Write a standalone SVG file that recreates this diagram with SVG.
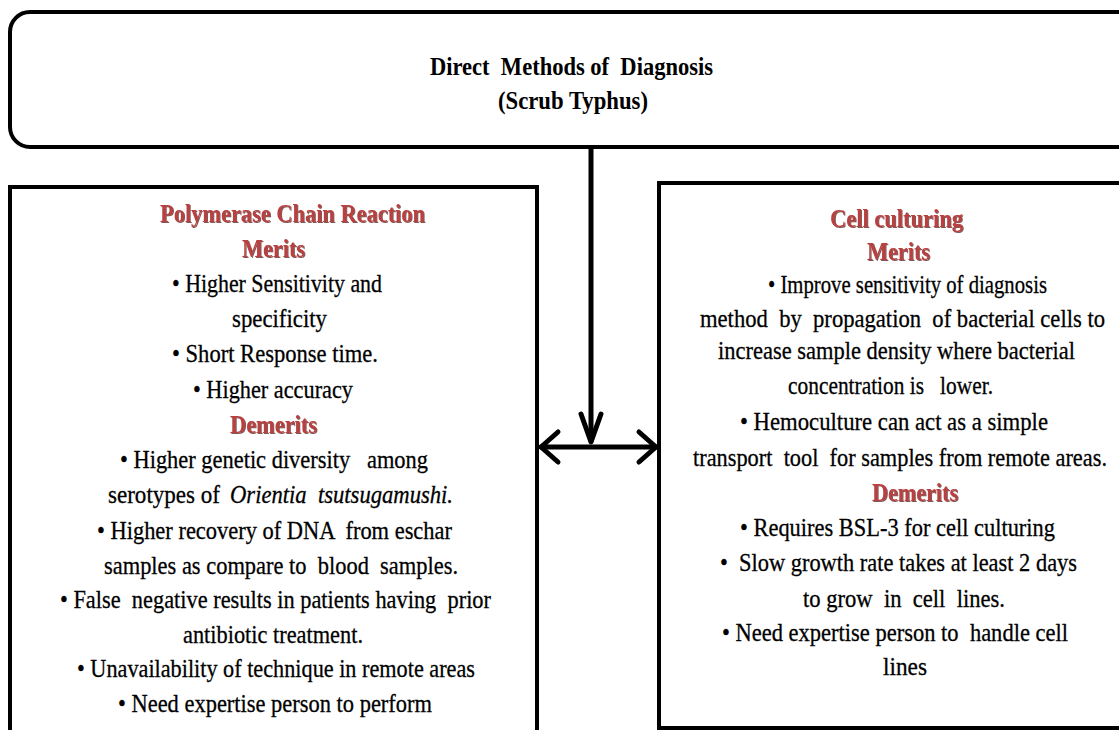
<svg xmlns="http://www.w3.org/2000/svg" width="1119" height="730" viewBox="0 0 1119 730">
<style>
.box{fill:#fff;stroke:#000;stroke-width:4}
.t{font-family:"Liberation Serif","Times New Roman",serif;font-size:26px;fill:#000;stroke:#000;stroke-width:0.3;white-space:pre}
.i{font-style:italic}
.ttl{font-family:"Liberation Serif","Times New Roman",serif;font-size:26px;font-weight:bold;fill:#000;white-space:pre}
.h{font-family:"Liberation Serif","Times New Roman",serif;font-size:26px;font-weight:bold;fill:#b8403f;filter:url(#sh);white-space:pre}
.c{fill:none;stroke:#000;stroke-width:5;stroke-linecap:round;stroke-linejoin:round}
</style>
<defs>
<filter id="sh" x="-5%" y="-20%" width="110%" height="140%">
<feDropShadow dx="1" dy="1" stdDeviation="0.6" flood-color="#4a1010" flood-opacity="0.7"/>
</filter>
</defs>
<rect width="1119" height="730" fill="#fff"/>
<g id="connectors">
<line class="c" x1="591" y1="148" x2="591" y2="441"/>
<polyline class="c" points="581,414 591,442 601,414"/>
<line class="c" x1="541" y1="447" x2="656" y2="447"/>
<polyline class="c" points="558,432 541,447 558,462"/>
<polyline class="c" points="639,432 656,447 639,462"/>
</g>
<g id="top">
<rect class="box" x="10" y="12" width="1130" height="135" rx="20"/>
<text class="ttl" x="430" y="75" textLength="283" lengthAdjust="spacingAndGlyphs">Direct  Methods of  Diagnosis</text>
<text class="ttl" x="498" y="109" textLength="150" lengthAdjust="spacingAndGlyphs">(Scrub Typhus)</text>
</g>
<g id="pcr">
<rect class="box" x="10" y="187" width="527" height="600"/>
<text class="h" x="160" y="222" textLength="265" lengthAdjust="spacingAndGlyphs">Polymerase Chain Reaction</text>
<text class="h" x="242" y="257" textLength="63" lengthAdjust="spacingAndGlyphs">Merits</text>
<text class="t" x="172" y="292" textLength="210" lengthAdjust="spacingAndGlyphs">• Higher Sensitivity and</text>
<text class="t" x="232" y="327" textLength="95" lengthAdjust="spacingAndGlyphs">specificity</text>
<text class="t" x="172" y="362" textLength="206" lengthAdjust="spacingAndGlyphs">• Short Response time.</text>
<text class="t" x="193" y="398" textLength="160" lengthAdjust="spacingAndGlyphs">• Higher accuracy</text>
<text class="h" x="230" y="433" textLength="87" lengthAdjust="spacingAndGlyphs">Demerits</text>
<text class="t" x="120" y="468" textLength="308" lengthAdjust="spacingAndGlyphs">• Higher genetic diversity   among</text>
<text class="t" x="108" y="503" textLength="112" lengthAdjust="spacingAndGlyphs">serotypes of</text>
<text class="t i" x="230" y="503" textLength="223" lengthAdjust="spacingAndGlyphs">Orientia  tsutsugamushi.</text>
<text class="t" x="97" y="539" textLength="355" lengthAdjust="spacingAndGlyphs">• Higher recovery of DNA  from eschar</text>
<text class="t" x="104" y="574" textLength="354" lengthAdjust="spacingAndGlyphs">samples as compare to  blood  samples.</text>
<text class="t" x="60" y="608" textLength="431" lengthAdjust="spacingAndGlyphs">• False  negative results in patients having  prior</text>
<text class="t" x="183" y="643" textLength="180" lengthAdjust="spacingAndGlyphs">antibiotic treatment.</text>
<text class="t" x="77" y="677" textLength="398" lengthAdjust="spacingAndGlyphs">• Unavailability of technique in remote areas</text>
<text class="t" x="118" y="712" textLength="314" lengthAdjust="spacingAndGlyphs">• Need expertise person to perform</text>
</g>
<g id="culture">
<rect class="box" x="659" y="183" width="480" height="545"/>
<text class="h" x="830" y="227" textLength="133" lengthAdjust="spacingAndGlyphs">Cell culturing</text>
<text class="h" x="867" y="260" textLength="63" lengthAdjust="spacingAndGlyphs">Merits</text>
<text class="t" x="768" y="293" textLength="279" lengthAdjust="spacingAndGlyphs">• Improve sensitivity of diagnosis</text>
<text class="t" x="700" y="327" textLength="405" lengthAdjust="spacingAndGlyphs">method  by  propagation  of bacterial cells to</text>
<text class="t" x="718" y="359" textLength="357" lengthAdjust="spacingAndGlyphs">increase sample density where bacterial</text>
<text class="t" x="788" y="394" textLength="205" lengthAdjust="spacingAndGlyphs">concentration is   lower.</text>
<text class="t" x="740" y="430" textLength="308" lengthAdjust="spacingAndGlyphs">• Hemoculture can act as a simple</text>
<text class="t" x="693" y="466" textLength="414" lengthAdjust="spacingAndGlyphs">transport  tool  for samples from remote areas.</text>
<text class="h" x="872" y="501" textLength="86" lengthAdjust="spacingAndGlyphs">Demerits</text>
<text class="t" x="740" y="536" textLength="315" lengthAdjust="spacingAndGlyphs">• Requires BSL-3 for cell culturing</text>
<text class="t" x="720" y="571" textLength="357" lengthAdjust="spacingAndGlyphs">•  Slow growth rate takes at least 2 days</text>
<text class="t" x="803" y="607" textLength="202" lengthAdjust="spacingAndGlyphs">to grow  in  cell  lines.</text>
<text class="t" x="722" y="641" textLength="346" lengthAdjust="spacingAndGlyphs">• Need expertise person to  handle cell</text>
<text class="t" x="883" y="675" textLength="44" lengthAdjust="spacingAndGlyphs">lines</text>
</g>
</svg>
